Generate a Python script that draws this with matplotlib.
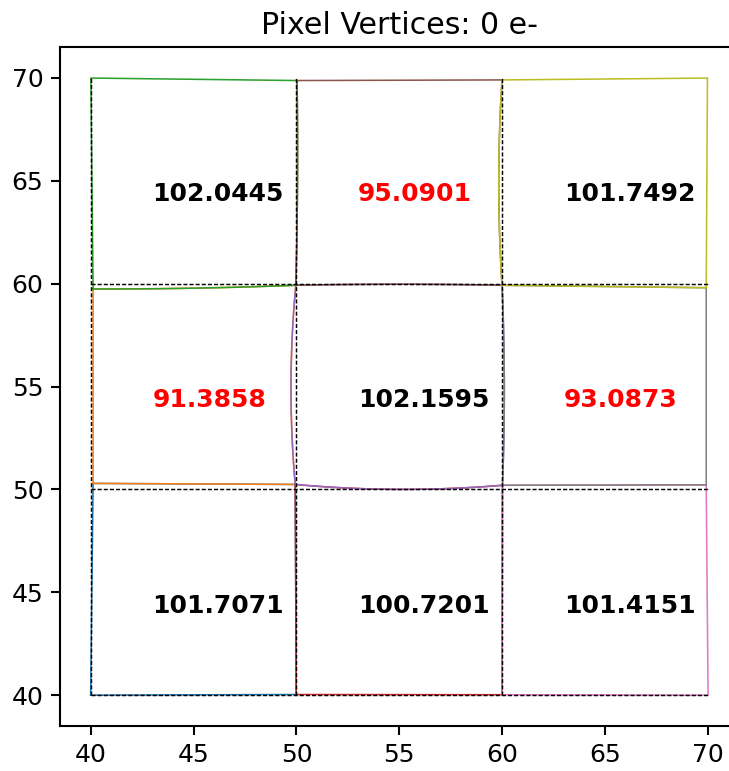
import numpy as np
import matplotlib.pyplot as plt

# Nominal pixel grid (3 x 3 pixels, 10 units each)
grid_lines = [40, 50, 60, 70]

# Distorted pixel vertices, indexed [column][row] (column along x, row along y)
vert_x = [[39.99, 40.11, 40.11, 40.00],
          [49.99, 49.94, 49.97, 50.03],
          [60.00, 60.02, 60.00, 60.00],
          [70.02, 69.93, 69.93, 69.99]]
vert_y = [[40.00, 50.29, 59.74, 69.99],
          [40.03, 50.24, 59.92, 69.87],
          [40.02, 50.20, 59.92, 69.90],
          [40.00, 50.22, 59.80, 69.99]]

# Mid-edge bowing of the pixel boundaries
# horizontal edges: [column][row line], offset along +y
bow_h = [[0.00, 0.00, -0.05, 0.00],
         [0.00, -0.22, 0.05, 0.00],
         [0.00, 0.00, 0.00, 0.00]]
# vertical edges: [column line][row], offset along +x
bow_v = [[0.00, 0.00, 0.00],
         [0.00, -0.22, 0.05],
         [0.00, 0.10, -0.16],
         [0.00, 0.00, 0.00]]

# Pixel areas, indexed [column][row]
areas = [[101.7071, 91.3858, 102.0445],
         [100.7201, 102.1595, 95.0901],
         [101.4151, 93.0873, 101.7492]]
area_thresh = 100.0
n_electrons = 0

plt.rcParams["font.size"] = 12
plt.rcParams["axes.linewidth"] = 1.0
for a in ["xtick", "ytick"]:
    plt.rcParams[a + ".major.size"] = 4.5
    plt.rcParams[a + ".major.width"] = 1.0


def edge(p0, p1, bow, axis, n=25):
    t = np.linspace(0, 1, n)
    x = p0[0] + t * (p1[0] - p0[0])
    y = p0[1] + t * (p1[1] - p0[1])
    b = 4 * t * (1 - t) * bow
    if axis == "x":
        x = x + b
    else:
        y = y + b
    return x, y


def pixel_outline(i, j):
    v = lambda a, b: (vert_x[a][b], vert_y[a][b])
    xs, ys = [], []
    # bottom, right, top, left
    for seg in [edge(v(i, j), v(i + 1, j), bow_h[i][j], "y"),
                edge(v(i + 1, j), v(i + 1, j + 1), bow_v[i + 1][j], "x"),
                edge(v(i + 1, j + 1), v(i, j + 1), bow_h[i][j + 1], "y"),
                edge(v(i, j + 1), v(i, j), bow_v[i][j], "x")]:
        xs.extend(seg[0])
        ys.extend(seg[1])
    return np.array(xs), np.array(ys)


fig = plt.figure(figsize=(730 / 150, 771 / 150), dpi=150)
ax = fig.add_axes([60 / 730, 45 / 771, 678.5 / 730, 679 / 771])

colors = plt.rcParams["axes.prop_cycle"].by_key()["color"]
k = 0
for i in range(3):
    for j in range(3):
        xs, ys = pixel_outline(i, j)
        ax.plot(xs, ys, color=colors[k % 10], lw=0.75)
        k += 1

# dashed lower/left edges of the undistorted pixels
for g in grid_lines[:-1]:
    ax.plot([g, g], [grid_lines[0], grid_lines[-1]], color="k", ls="--", lw=0.7, dashes=(2.8, 1.4))
    ax.plot([grid_lines[0], grid_lines[-1]], [g, g], color="k", ls="--", lw=0.7, dashes=(2.8, 1.4))

for i in range(3):
    for j in range(3):
        a = areas[i][j]
        col = "red" if a < area_thresh else "black"
        ax.text(grid_lines[i] + 3, grid_lines[j] + 4, "%.4f" % a,
                color=col, fontsize=12, fontweight="bold")

ax.set_xlim(38.5, 71.5)
ax.set_ylim(38.5, 71.5)
ax.set_xticks([40, 45, 50, 55, 60, 65, 70])
ax.set_yticks([40, 45, 50, 55, 60, 65, 70])
ax.set_title("Pixel Vertices: %d e-" % n_electrons, fontsize=14.4)

fig.savefig("out.png", dpi=150)
